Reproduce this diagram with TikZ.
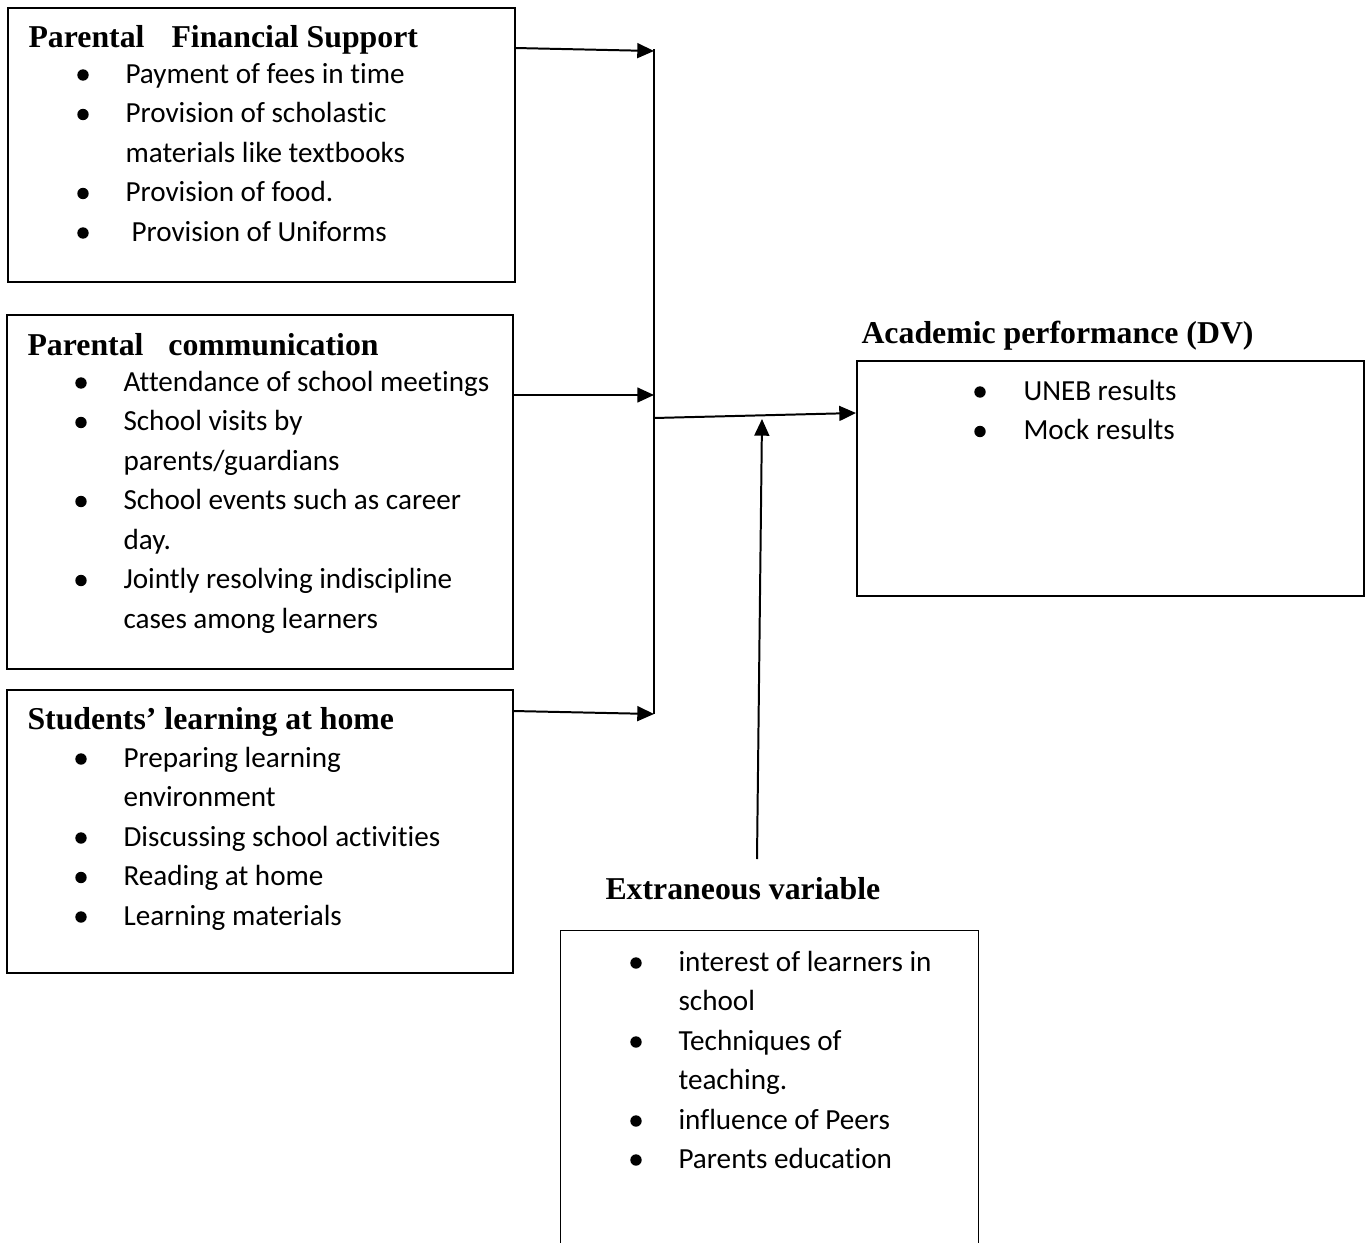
\documentclass[tikz,border=0pt]{standalone}
\usepackage{fontspec}
\setmainfont{Carlito}[Ligatures={NoCommon,NoRequired,NoContextual}]
\newfontfamily\tnr{Liberation Serif}
\usetikzlibrary{arrows.meta,fit,calc}
\tikzset{
  box/.style={draw=black,line width=0.55pt,inner sep=0pt},
  itm/.style={anchor=base west,inner sep=0pt,font=\fontsize{11}{13}\selectfont},
  ttl/.style={anchor=base west,inner sep=0pt,font=\tnr\bfseries\fontsize{12}{14}\selectfont},
  bdot/.style={circle,fill=black,inner sep=0pt,minimum size=4.3pt},
  arr/.style={line width=0.75pt,-{Triangle[length=6.3pt,width=5.6pt]}},
  jline/.style={line width=0.5pt}
}
\newcommand\bli[5]{\node[bdot] (#1b) at (#2,#4-8) {};\node[itm] (#1) at (#3,#4) {#5};}
\newcommand\cli[4]{\node[itm] (#1) at (#2,#3) {#4};}
\begin{document}
\begin{tikzpicture}[x=0.3774pt,y=-0.3774pt]
\useasboundingbox (0,0) rectangle (1368,1243);
% boxes
\node[box,fit={(8,8) (515,282)}] (b1) {};
\node[box,fit={(7,315) (513,669)}] (b2) {};
\node[box,fit={(7,690) (513,973)}] (b3) {};
\node[box,fit={(857,361) (1364,596)}] (dv) {};
\node[inner sep=0pt,fit={(561,931) (978,1243)}] (ex) {};
\draw[line width=0.55pt] (ex.south west) -- (ex.north west) -- (ex.north east) -- (ex.south east);
% titles
\node[ttl] (t1) at (28,47) {Parental\hspace{10.2pt}Financial Support};
\node[ttl] (t2) at (27,355) {Parental\hspace{9.4pt}communication};
\node[ttl] (t3) at (27,729) {Students’ learning at home};
\node[ttl] (t4) at (861,343) {Academic performance (DV)};
\node[ttl] (t5) at (605,899) {Extraneous variable};
% box 1
\bli{a1}{83}{125}{83}{Payment of fees in time}
\bli{a2}{83}{125}{122.5}{Provision of scholastic}
\cli{a2c}{125}{162}{materials like textbooks}
\bli{a3}{83}{125}{201.5}{Provision of food.}
\bli{a4}{83}{131}{241}{Provision of Uniforms}
% box 2
\bli{c1}{81}{123}{391}{Attendance of school meetings}
\bli{c2}{81}{123}{430.5}{School visits by}
\cli{c2c}{123}{470}{parents/guardians}
\bli{c3}{81}{123}{509.5}{School events such as career}
\cli{c3c}{123}{549}{day.}
\bli{c4}{81}{123}{588.5}{Jointly resolving indiscipline}
\cli{c4c}{123}{628}{cases among learners}
% box 3
\bli{s1}{81}{123}{767}{Preparing learning}
\cli{s1c}{123}{806.5}{environment}
\bli{s2}{81}{123}{846}{Discussing school activities}
\bli{s3}{81}{123}{885.5}{Reading at home}
\bli{s4}{81}{123}{925}{Learning materials}
% DV
\bli{d1}{980}{1023}{400}{UNEB results}
\bli{d2}{980}{1023}{439.5}{Mock results}
% extraneous
\bli{e1}{636}{678}{971}{interest of learners in}
\cli{e1c}{678}{1010}{school}
\bli{e2}{636}{678}{1050}{Techniques of}
\cli{e2c}{678}{1089}{teaching.}
\bli{e3}{636}{678}{1129}{influence of Peers}
\bli{e4}{636}{678}{1168}{Parents education}
% connectors
\coordinate (jt) at (654,49);
\coordinate (jb) at (654,714);
\coordinate (j1) at (654,51);
\coordinate (j2) at (654,395);
\coordinate (j3) at (654,714);
\coordinate (jo) at (654,418);
\coordinate (s1o) at (515,48);
\coordinate (s2o) at (513,395);
\coordinate (s3o) at (513,711);
\coordinate (dvin) at (856,413);
\coordinate (exo) at (757,859);
\coordinate (exi) at (762,419);
\draw[jline] (jt) -- (jb);
\draw[arr] (s1o) -- (j1);
\draw[arr] (s2o) -- (j2);
\draw[arr] (s3o) -- (j3);
\draw[arr] (jo) -- (dvin);
\draw[arr] (exo) -- (exi);
\end{tikzpicture}
\end{document}
